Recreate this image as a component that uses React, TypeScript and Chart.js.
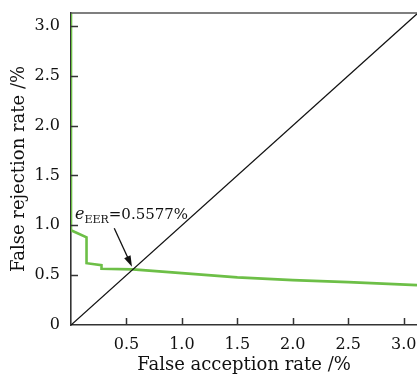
import React, { useEffect, useRef } from "react";
import { Chart, registerables } from "chart.js";

Chart.register(...registerables);

// False acceptance rate (%) vs false rejection rate (%)
const farValues = [0, 0, 0.14, 0.14, 0.275, 0.275, 0.5577, 1.0, 1.5, 2.0, 2.5, 3.12];
const frrValues = [3.3, 0.95, 0.88, 0.62, 0.6, 0.565, 0.5577, 0.52, 0.478, 0.45, 0.43, 0.4];
// Equal error line y = x
const diagX = [0, 3.2];
const diagY = [0, 3.2];

const xMin = 0;
const xMax = 3.12;
const yMin = 0;
const yMax = 3.13;
const tickStep = 0.5;

const xTitle = "False acception rate /%";
const yTitle = "False rejection rate /%";

const eerItalic = "e";
const eerSub = "EER";
const eerRest = "=0.5577%";
const eerLabelAt = [0.036, 1.06];
const eerArrowFrom = [0.39, 0.97];
const eerArrowTo = [0.55, 0.585];

const FONT = '"DejaVu Serif", serif';

const fmt = (v: number) => (v === 0 ? "0" : v.toFixed(1));

const decorPlugin = {
  id: "decor",
  afterDatasetsDraw(chart: any) {
    const { ctx, chartArea: a, scales } = chart;
    const x = scales.x;
    const y = scales.y;
    ctx.save();
    // top frame line
    ctx.strokeStyle = "#555";
    ctx.lineWidth = 1.5;
    ctx.beginPath();
    ctx.moveTo(a.left, a.top);
    ctx.lineTo(a.right, a.top);
    ctx.stroke();
    // inward tick marks
    ctx.strokeStyle = "#333";
    ctx.lineWidth = 1.5;
    x.ticks.forEach((t: any) => {
      if (t.value === 0) return;
      const px = Math.round(x.getPixelForValue(t.value)) + 0.5;
      ctx.beginPath();
      ctx.moveTo(px, a.bottom);
      ctx.lineTo(px, a.bottom - 7);
      ctx.stroke();
    });
    y.ticks.forEach((t: any) => {
      if (t.value === 0) return;
      const py = Math.round(y.getPixelForValue(t.value)) + 0.5;
      ctx.beginPath();
      ctx.moveTo(a.left, py);
      ctx.lineTo(a.left + 7, py);
      ctx.stroke();
    });
    // annotation text
    const lx = x.getPixelForValue(eerLabelAt[0]);
    const ly = y.getPixelForValue(eerLabelAt[1]);
    ctx.fillStyle = "#111";
    ctx.textBaseline = "alphabetic";
    ctx.textAlign = "left";
    ctx.font = `italic 16px ${FONT}`;
    ctx.fillText(eerItalic, lx, ly);
    let cx = lx + ctx.measureText(eerItalic).width;
    ctx.font = `11px ${FONT}`;
    ctx.fillText(eerSub, cx, ly + 4);
    cx += ctx.measureText(eerSub).width;
    ctx.font = `15px ${FONT}`;
    ctx.fillText(eerRest, cx, ly);
    // arrow
    const x0 = x.getPixelForValue(eerArrowFrom[0]);
    const y0 = y.getPixelForValue(eerArrowFrom[1]);
    const x1 = x.getPixelForValue(eerArrowTo[0]);
    const y1 = y.getPixelForValue(eerArrowTo[1]);
    const ang = Math.atan2(y1 - y0, x1 - x0);
    const hl = 11;
    const hw = 3.5;
    ctx.strokeStyle = "#111";
    ctx.lineWidth = 1.3;
    ctx.beginPath();
    ctx.moveTo(x0, y0);
    ctx.lineTo(x1 - Math.cos(ang) * hl * 0.8, y1 - Math.sin(ang) * hl * 0.8);
    ctx.stroke();
    ctx.fillStyle = "#111";
    ctx.beginPath();
    ctx.moveTo(x1, y1);
    ctx.lineTo(
      x1 - Math.cos(ang) * hl - Math.sin(ang) * hw,
      y1 - Math.sin(ang) * hl + Math.cos(ang) * hw
    );
    ctx.lineTo(
      x1 - Math.cos(ang) * hl + Math.sin(ang) * hw,
      y1 - Math.sin(ang) * hl - Math.cos(ang) * hw
    );
    ctx.closePath();
    ctx.fill();
    ctx.restore();
  },
};

export default function App() {
  const ref = useRef<HTMLCanvasElement | null>(null);
  useEffect(() => {
    if (!ref.current) return;
    const chart = new Chart(ref.current, {
      type: "scatter",
      data: {
        datasets: [
          {
            label: "EER line",
            data: diagX.map((v, i) => ({ x: v, y: diagY[i] })),
            showLine: true,
            borderColor: "#111",
            borderWidth: 1.3,
            pointRadius: 0,
            tension: 0,
          },
          {
            label: "FRR",
            data: farValues.map((v, i) => ({ x: v, y: frrValues[i] })),
            showLine: true,
            borderColor: "#6dbf47",
            borderWidth: 2.6,
            pointRadius: 0,
            tension: 0,
          },
        ],
      },
      options: {
        animation: false,
        responsive: false,
        layout: { padding: { top: 13, right: 0, left: 0, bottom: 0 } },
        plugins: {
          legend: { display: false },
          tooltip: { enabled: false },
        },
        scales: {
          x: {
            type: "linear",
            min: xMin,
            max: xMax,
            grid: { display: false, drawTicks: false },
            border: { display: true, color: "#333", width: 1.6 },
            ticks: {
              stepSize: tickStep,
              includeBounds: false,
              maxRotation: 0,
              autoSkip: false,
              padding: 10,
              color: "#111",
              font: { family: FONT, size: 16 },
              callback: (v: any) => (v === 0 ? "" : fmt(Number(v))),
            },
            title: {
              display: true,
              text: xTitle,
              color: "#111",
              font: { family: FONT, size: 18 },
              padding: { top: 0, bottom: -2 },
            },
            afterFit: (s: any) => {
              s.height = 49;
              s.paddingLeft = 0;
              s.paddingRight = 0;
            },
          },
          y: {
            type: "linear",
            min: yMin,
            max: yMax,
            grid: { display: false, drawTicks: false },
            border: { display: true, color: "#333", width: 1.6 },
            ticks: {
              stepSize: tickStep,
              includeBounds: false,
              autoSkip: false,
              padding: 11,
              color: "#111",
              font: { family: FONT, size: 16 },
              callback: (v: any) => fmt(Number(v)),
            },
            title: {
              display: true,
              text: yTitle,
              color: "#111",
              font: { family: FONT, size: 18 },
              padding: { top: 9, bottom: 0 },
            },
            afterFit: (s: any) => {
              s.width = 71;
              s.paddingTop = 0;
              s.paddingBottom = 0;
            },
          },
        },
      },
      plugins: [decorPlugin],
    });
    return () => chart.destroy();
  }, []);
  return (
    <div style={{ position: "absolute", left: 0, top: 0, width: 417, height: 374, background: "#fff" }}>
      <canvas ref={ref} width={417} height={374} style={{ display: "block" }} />
    </div>
  );
}
